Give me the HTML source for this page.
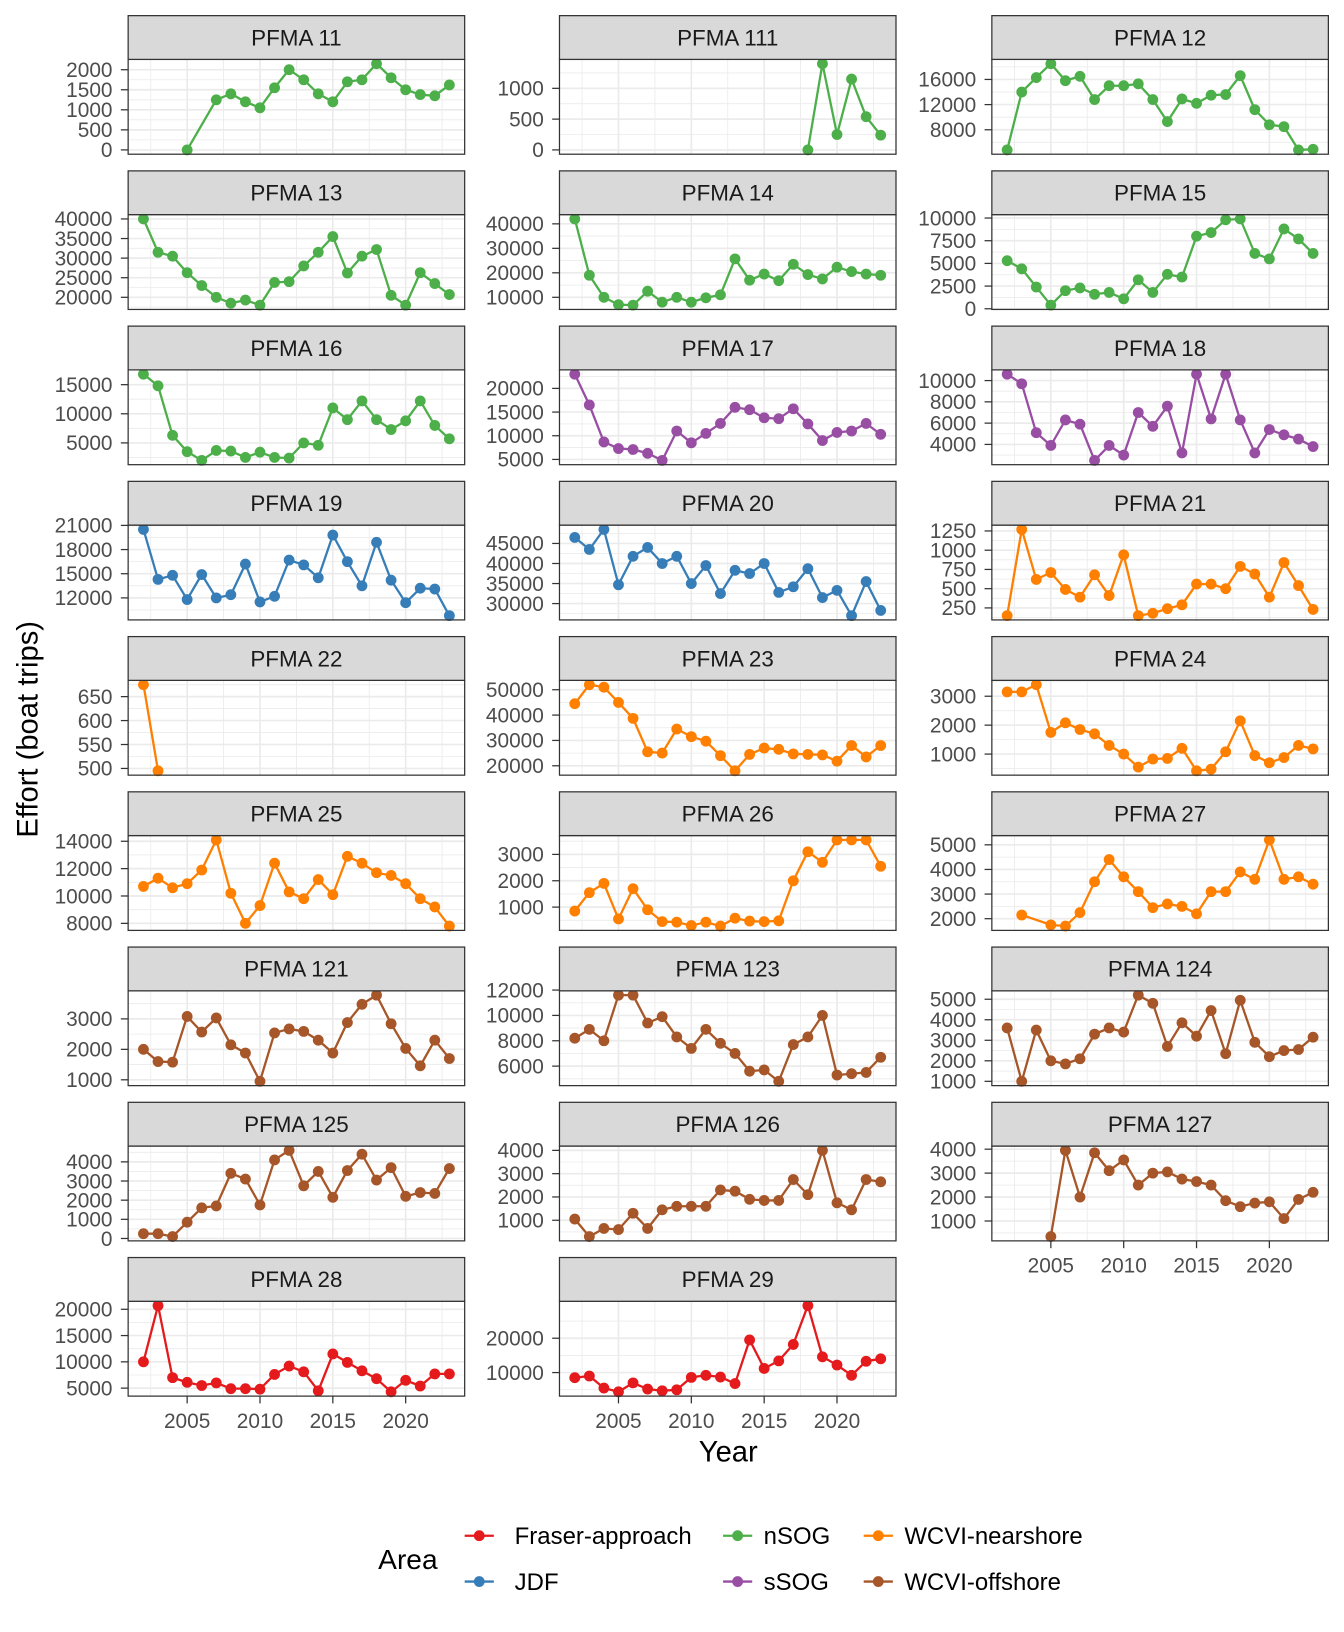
<!DOCTYPE html>
<html><head><meta charset="utf-8"><style>
body{margin:0;background:#fff}
svg{display:block;font-family:"Liberation Sans",Arial,sans-serif}
</style></head><body>
<svg id="chart" width="1344" height="1632" viewBox="0 0 1290 1566.4" xmlns="http://www.w3.org/2000/svg"></svg>
<script>
const years=[2002,2003,2004,2005,2006,2007,2008,2009,2010,2011,2012,2013,2014,2015,2016,2017,2018,2019,2020,2021,2022,2023];
const xTicks=[2005,2010,2015,2020];
const panelNames=["PFMA 11","PFMA 111","PFMA 12","PFMA 13","PFMA 14","PFMA 15","PFMA 16","PFMA 17","PFMA 18","PFMA 19","PFMA 20","PFMA 21","PFMA 22","PFMA 23","PFMA 24","PFMA 25","PFMA 26","PFMA 27","PFMA 121","PFMA 123","PFMA 124","PFMA 125","PFMA 126","PFMA 127","PFMA 28","PFMA 29"];
const panelAreas=["nSOG","nSOG","nSOG","nSOG","nSOG","nSOG","nSOG","sSOG","sSOG","JDF","JDF","WCVI-nearshore","WCVI-nearshore","WCVI-nearshore","WCVI-nearshore","WCVI-nearshore","WCVI-nearshore","WCVI-nearshore","WCVI-offshore","WCVI-offshore","WCVI-offshore","WCVI-offshore","WCVI-offshore","WCVI-offshore","Fraser-approach","Fraser-approach"];
const v11=[null,null,null,0,null,1250,1400,1200,1050,1550,2000,1750,1400,1200,1700,1750,2150,1800,1500,1380,1350,1620];
const v111=[null,null,null,null,null,null,null,null,null,null,null,null,null,null,null,null,0,1400,250,1150,540,240];
const v12=[4800,14000,16300,18500,15800,16500,12800,15000,15000,15300,12800,9300,12900,12200,13500,13600,16600,11200,8800,8500,4800,4900];
const v13=[40000,31500,30500,26300,23000,20000,18500,19300,18000,23800,24000,28000,31500,35500,26200,30500,32200,20500,18000,26300,23500,20700];
const v14=[42000,19000,10000,7000,6800,12500,8000,10000,8000,9800,11000,25700,17000,19500,16800,23500,19300,17500,22300,20500,19500,19000];
const v15=[5300,4400,2400,400,2000,2300,1600,1800,1100,3200,1800,3800,3500,8000,8400,9800,9900,6100,5500,8800,7700,6100];
const v16=[16800,14800,6300,3500,2000,3700,3600,2500,3400,2500,2400,5000,4600,11000,9000,12200,9000,7300,8800,12200,8000,5700];
const v17=[23000,16500,8700,7300,7100,6300,4800,11000,8500,10500,12600,16000,15500,13800,13600,15700,12500,9000,10700,11000,12600,10300];
const v18=[10600,9700,5100,3900,6300,5900,2500,3900,3000,7000,5700,7600,3200,10600,6400,10600,6300,3200,5400,4900,4500,3800];
const v19=[20500,14300,14800,11800,14900,12000,12400,16200,11500,12200,16700,16100,14500,19800,16500,13500,18900,14200,11400,13200,13100,9800];
const v20=[46500,43500,48500,34700,41800,44000,40000,41800,35000,39500,32500,38300,37500,40000,32800,34200,38700,31500,33300,27000,35500,28300];
const v21=[150,1270,620,710,490,390,680,410,940,150,180,240,290,560,560,500,790,690,390,840,540,230];
const v22=[675,495,null,null,null,null,null,null,null,null,null,null,null,null,null,null,null,null,null,null,null,null];
const v23=[44500,52000,51000,45000,38700,25500,25000,34500,31500,29700,24000,18000,24500,27000,26500,24700,24500,24300,21800,28000,23500,28000];
const v24=[3150,3150,3400,1750,2080,1850,1700,1300,1000,550,830,850,1200,420,480,1080,2150,950,700,880,1300,1180];
const v25=[10700,11300,10600,10900,11900,14100,10200,8000,9300,12400,10300,9800,11200,10100,12900,12400,11700,11500,10900,9800,9200,7800];
const v26=[850,1550,1900,550,1700,900,450,430,300,430,280,580,470,450,480,2000,3100,2700,3550,3550,3550,2550];
const v27=[null,2150,null,1750,1700,2250,3500,4400,3700,3100,2450,2600,2500,2200,3100,3100,3900,3600,5200,3600,3700,3400];
const v121=[2000,1600,1580,3080,2570,3030,2150,1880,950,2540,2670,2590,2300,1880,2880,3480,3780,2840,2030,1460,2300,1700];
const v123=[8200,8900,8000,11600,11600,9400,9900,8300,7400,8900,7800,7000,5600,5700,4800,7700,8300,10000,5300,5400,5500,6700];
const v124=[3600,1000,3500,2000,1850,2100,3300,3600,3400,5200,4800,2700,3850,3200,4450,2350,4950,2900,2200,2500,2550,3150];
const v125=[250,250,100,850,1600,1700,3400,3100,1750,4100,4600,2750,3500,2150,3550,4400,3050,3700,2200,2400,2350,3650];
const v126=[1050,300,650,600,1300,650,1450,1600,1600,1600,2300,2250,1900,1850,1850,2750,2100,4000,1750,1450,2750,2650];
const v127=[null,null,null,350,3950,2000,3850,3100,3550,2500,3000,3050,2750,2650,2500,1850,1600,1750,1800,1100,1900,2200];
const v28=[10000,20700,7000,6100,5500,6000,4900,4900,4800,7600,9200,8100,4500,11500,9900,8300,6800,4300,6500,5400,7700,7700];
const v29=[8500,9000,5500,4400,7000,5200,4700,5000,8600,9200,8700,6800,19500,11200,13400,18200,29500,14600,12200,9200,13300,14000];
const panelValues=[v11,v111,v12,v13,v14,v15,v16,v17,v18,v19,v20,v21,v22,v23,v24,v25,v26,v27,v121,v123,v124,v125,v126,v127,v28,v29];
const panelTicks=[[0,500,1000,1500,2000],[0,500,1000],[8000,12000,16000],[20000,25000,30000,35000,40000],[10000,20000,30000,40000],[0,2500,5000,7500,10000],[5000,10000,15000],[5000,10000,15000,20000],[4000,6000,8000,10000],[12000,15000,18000,21000],[30000,35000,40000,45000],[250,500,750,1000,1250],[500,550,600,650],[20000,30000,40000,50000],[1000,2000,3000],[8000,10000,12000,14000],[1000,2000,3000],[2000,3000,4000,5000],[1000,2000,3000],[6000,8000,10000,12000],[1000,2000,3000,4000,5000],[0,1000,2000,3000,4000],[1000,2000,3000,4000],[1000,2000,3000,4000],[5000,10000,15000,20000],[10000,20000]];
const areaNames=["Fraser-approach","JDF","nSOG","sSOG","WCVI-nearshore","WCVI-offshore"];
const areaColors=["#E41A1C","#377EB8","#4DAF4A","#984EA3","#FF7F00","#A65628"];

const NS="http://www.w3.org/2000/svg";
const svg=document.getElementById('chart');
function mk(tag,attrs,parent){const e=document.createElementNS(NS,tag);for(const k in attrs)e.setAttribute(k,attrs[k]);(parent||svg).appendChild(e);return e;}
const colLeft=[123,537,952],PW=323,PH=91,SH=42;
const xmin=years[0]-(years[years.length-1]-years[0])*0.05,xmax=years[years.length-1]+(years[years.length-1]-years[0])*0.05;
panelNames.forEach((name,i)=>{
  const r=Math.floor(i/3),c=i%3;
  const L=colLeft[c],T=57+149*r,B=T+PH;
  const g=mk('g',{});
  
  
  const vals=panelValues[i];
  const nn=vals.filter(v=>v!==null);
  let lo=Math.min(...nn),hi=Math.max(...nn);if(hi===lo){hi+=1;lo-=1;}
  const pad=(hi-lo)*0.05;const ymin=lo-pad,ymax=hi+pad;
  const X=yr=>L+(yr-xmin)/(xmax-xmin)*PW;
  const Y=v=>B-(v-ymin)/(ymax-ymin)*PH;
  mk('rect',{x:L,y:T,width:PW,height:PH,fill:'#fff'},g);
  const ticks=panelTicks[i];const st=ticks.length>1?ticks[1]-ticks[0]:ticks[0];
  for(let t=ticks[0]-st*1.5;t<=ticks[ticks.length-1]+st*1.5;t+=st){if(t>=ymin&&t<=ymax)mk('line',{x1:L,x2:L+PW,y1:Y(t),y2:Y(t),stroke:'#EBEBEB','stroke-width':0.8},g);}
  for(let yy=2000;yy<=2025;yy+=5){const m=yy+2.5;if(m>xmin&&m<xmax)mk('line',{x1:X(m),x2:X(m),y1:T,y2:B,stroke:'#EBEBEB','stroke-width':0.8},g);}
  if(2000>xmin)mk('line',{x1:X(2000),x2:X(2000),y1:T,y2:B,stroke:'#EBEBEB','stroke-width':1.6},g);
  xTicks.forEach(t=>mk('line',{x1:X(t),x2:X(t),y1:T,y2:B,stroke:'#EBEBEB','stroke-width':1.6},g));
  ticks.forEach(t=>{const y=Y(t);mk('line',{x1:L,x2:L+PW,y1:y,y2:y,stroke:'#EBEBEB','stroke-width':1.6},g);
    mk('line',{x1:L-7,x2:L,y1:y,y2:y,stroke:'#333','stroke-width':1.2},g);
    const tx=mk('text',{x:L-15,y:y+7,'text-anchor':'end','font-size':20,fill:'#4D4D4D'},g);tx.textContent=t;});
  const col=areaColors[areaNames.indexOf(panelAreas[i])];
  let d='';years.forEach((yr,k)=>{if(vals[k]!==null){d+=(d?'L':'M')+X(yr).toFixed(1)+' '+Y(vals[k]).toFixed(1);}});
  const ln=mk('path',{d:d,fill:'none',stroke:col,'stroke-width':2.2},g);
  
  
  years.forEach((yr,k)=>{if(vals[k]!==null){const p=mk('circle',{cx:X(yr),cy:Y(vals[k]),r:5.2,fill:col},g);
    
    }});
  mk('rect',{x:L,y:T,width:PW,height:PH,fill:'none',stroke:'#333','stroke-width':1.2},g);
  mk('rect',{x:L,y:T-SH,width:PW,height:SH,fill:'#D9D9D9',stroke:'#333','stroke-width':1.2},g);
  const s=mk('text',{x:L+PW/2,y:T-SH/2+7.5,'text-anchor':'middle','font-size':21.5,fill:'#1A1A1A'},g);s.textContent=name;
  const bottom=(c<2&&r===8)||(c===2&&r===7);
  if(bottom){xTicks.forEach(t=>{mk('line',{x1:X(t),x2:X(t),y1:B,y2:B+7,stroke:'#333','stroke-width':1.2},g);
    const tx=mk('text',{x:X(t),y:B+30.5,'text-anchor':'middle','font-size':20,fill:'#4D4D4D'},g);tx.textContent=t;});}
});
const yt=mk('text',{x:0,y:0,transform:'translate(36,700) rotate(-90)','text-anchor':'middle','font-size':28,fill:'#000'});


yt.textContent='Effort (boat trips)';
const xt=mk('text',{x:699,y:1403,'text-anchor':'middle','font-size':28,fill:'#000'});


xt.textContent='Year';
const lt=mk('text',{x:363,y:1506,'font-size':27,fill:'#000'});


lt.textContent='Area';
const legX=[460,708,843],legY=[1474,1518];
areaNames.forEach((a,k)=>{const cx=legX[Math.floor(k/2)],cy=legY[k%2];
  const g=mk('g',{});
  
  
  mk('line',{x1:cx-14,x2:cx+14,y1:cy,y2:cy,stroke:areaColors[k],'stroke-width':2.2},g);
  mk('circle',{cx:cx,cy:cy,r:5.2,fill:areaColors[k]},g);
  const t=mk('text',{x:cx+(k<2?34:25),y:cy+8,'font-size':23,fill:'#000'},g);t.textContent=a;});
</script>
</body></html>
